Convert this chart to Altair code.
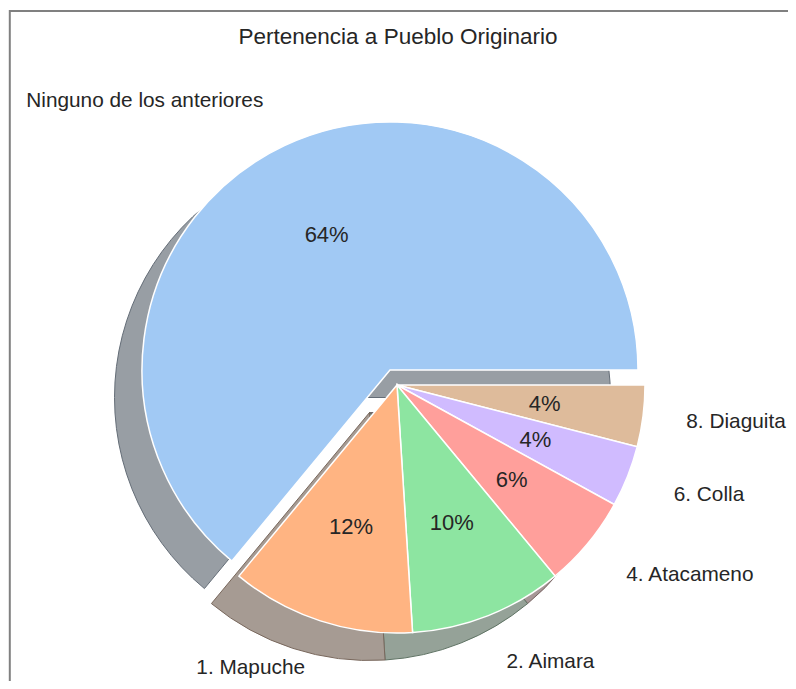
import math
import altair as alt
import pandas as pd

# ---- data ----
TITLE = "Pertenencia a Pueblo Originario"
labels = ["8. Diaguita", "6. Colla", "4. Atacameno", "2. Aimara", "1. Mapuche",
          "Ninguno de los anteriores"]
values = [4, 4, 6, 10, 12, 64]
pct_text = ["4%", "4%", "6%", "10%", "12%", "64%"]
explode = [0, 0, 0, 0, 0, 1]
side = ["right", "right", "right", "right", "left", "left"]

# ---- styling ----
colors = ["#debb9b", "#d0bbff", "#ff9f9b", "#8de5a1", "#ffb482", "#a1c9f4"]
shadow_fill = ["#a19c97", "#9f9ca6", "#a69797", "#95a298", "#a69b93", "#989ea4"]
shadow_edge = ["#726a63", "#6e6a79", "#796463", "#5f7364", "#79685d", "#646d77"]
FONT = "Liberation Sans"
TXT = "#262626"

W, H = 780, 673
CX, CY = 389, 377          # pie centre (view px)
EX, EY = 382, 362          # centre of the exploded wedge
SDX, SDY = -27.5, 27.5     # shadow offset
R = 248

df = pd.DataFrame({
    "label": labels, "value": values, "pct": pct_text,
    "explode": explode, "side": side, "idx": list(range(len(labels))),
})

theta = alt.Theta("value:Q", stack=True,
                  scale=alt.Scale(range=[math.pi / 2, 5 * math.pi / 2]))
order = alt.Order("idx:Q")
base = alt.Chart(df)


def show(cond_true):
    return alt.condition(cond_true, alt.value(1), alt.value(0))


is_exp = alt.datum.explode == 1
not_exp = alt.datum.explode == 0
edge_lbl = alt.datum.label == labels[0]

layers = []
# shadows
for cx, cy, cond in [(CX, CY, not_exp), (EX, EY, is_exp)]:
    layers.append(
        base.mark_arc(radius=R, strokeWidth=1).encode(
            theta=theta, order=order,
            x=alt.value(cx + SDX), y=alt.value(cy + SDY),
            color=alt.Color("label:N", legend=None,
                            scale=alt.Scale(domain=labels, range=shadow_fill)),
            stroke=alt.Stroke("label:N", legend=None,
                              scale=alt.Scale(domain=labels, range=shadow_edge)),
            opacity=show(cond),
        )
    )
# wedges
for cx, cy, cond in [(CX, CY, not_exp), (EX, EY, is_exp)]:
    layers.append(
        base.mark_arc(radius=R, stroke="white", strokeWidth=1.5).encode(
            theta=theta, order=order,
            x=alt.value(cx), y=alt.value(cy),
            color=alt.Color("label:N", legend=None,
                            scale=alt.Scale(domain=labels, range=colors)),
            opacity=show(cond),
        )
    )
# percentage labels
for cx, cy, cond in [(CX, CY, not_exp), (EX, EY, is_exp)]:
    layers.append(
        base.mark_text(radius=0.6 * R, font=FONT, fontSize=22, color=TXT,
                       align="center", baseline="middle").encode(
            theta=theta, order=order, text="pct:N",
            x=alt.value(cx), y=alt.value(cy),
            opacity=show(cond),
        )
    )
# outer labels
for cx, cy, rad, al, cond in [
    (CX, CY, 1.2 * R, "left",
     (alt.datum.explode == 0) & (alt.datum.side == "right") & ~edge_lbl),
    (CX, CY, 1.2 * R - 6, "left", edge_lbl),
    (CX, CY, 1.2 * R, "right", (alt.datum.explode == 0) & (alt.datum.side == "left")),
    (EX, EY, 1.2 * R, "right", is_exp),
]:
    layers.append(
        base.mark_text(radius=rad, font=FONT, fontSize=20.8, color=TXT,
                       align=al, baseline="middle").encode(
            theta=theta, order=order, text="label:N",
            x=alt.value(cx), y=alt.value(cy),
            opacity=show(cond),
        )
    )

title_df = pd.DataFrame({"t": [TITLE]})
title = alt.Chart(title_df).mark_text(
    font=FONT, fontSize=22.5, color=TXT, align="center", baseline="alphabetic"
).encode(text="t:N", x=alt.value(390), y=alt.value(36.3))

frame_df = pd.DataFrame({"k": [0]})
top_line = alt.Chart(frame_df).mark_rule(color="#808080", strokeWidth=2).encode(
    x=alt.value(1), x2=alt.value(W), y=alt.value(3))
left_line = alt.Chart(frame_df).mark_rule(color="#808080", strokeWidth=2).encode(
    x=alt.value(1.8), y=alt.value(2), y2=alt.value(H))

chart = alt.layer(*layers, title, top_line, left_line).resolve_scale(
    color="independent", stroke="independent"
).properties(
    width=W, height=H, padding=0,
    autosize=alt.AutoSizeParams(type="none"),
    background="white",
).configure_view(strokeWidth=0)

chart.save("out.html", embed_options={"renderer": "svg", "actions": False})
